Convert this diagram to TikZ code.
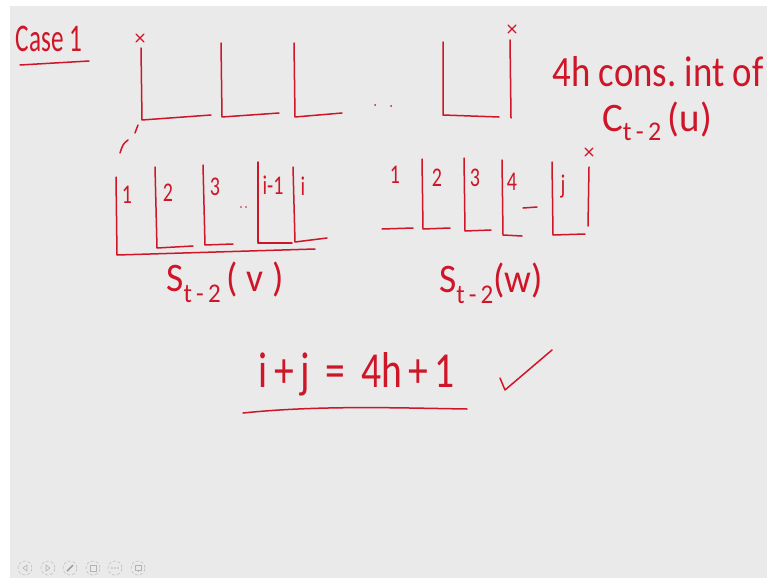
\documentclass[tikz,border=0pt]{standalone}
\usepackage{fontspec}
\setmainfont{Carlito}
\usepackage{graphicx}
\usetikzlibrary{positioning}
\definecolor{inkred}{RGB}{206,22,40}
\definecolor{slidegray}{RGB}{234,234,234}
\tikzset{
  ink/.style={draw=inkred, line width=1.5pt, line cap=round, line join=round},
  inkdot/.style={fill=inkred},
  inktext/.style={text=inkred, inner sep=0pt, font=\fontsize{20}{20}\selectfont},
  inkbig/.style={inktext, font=\fontsize{32}{32}\selectfont},
  navbutton/.style={circle, draw=gray!55, densely dashed, line width=0.5pt,
    minimum size=14pt, inner sep=0pt},
  navmark/.style={draw=gray!60, line width=0.6pt}
}
\newcommand{\tallink}[1]{\scalebox{1}[1.35]{#1}}
\newcommand{\crossmark}[1]{\draw[ink,line width=1.1pt] ($(#1)+(-4,-4)$) -- ($(#1)+(4,4)$) ($(#1)+(4,-4)$) -- ($(#1)+(-4,4)$);}
\usetikzlibrary{calc}
\begin{document}
\begin{tikzpicture}[x=1pt,y=-1pt]
  \useasboundingbox (0,0) rectangle (767,578);
  \fill[white] (0,0) rectangle (767,578);
  \fill[slidegray] (10,6) rectangle (767,578);

  % Heading
  \node[inktext,font=\fontsize{28}{28}\selectfont] (case) at (49,39) {\scalebox{0.9}[1.4]{Case 1}};
  \draw[ink] (20,65) -- (89,61);

  % Top row of slots
  \draw[ink] (141,48) -- (142,120) -- (211,115);
  \draw[ink] (221,43) -- (222,117) -- (279,113);
  \draw[ink] (294,43) -- (295,117) -- (342,113);
  \fill[inkdot] (375,105) circle (1pt) (391,106) circle (1pt);
  \draw[ink] (443,42) -- (443,115) -- (499,117);
  \draw[ink] (510,40) -- (511,118);
  \coordinate (xa) at (140,38);
  \coordinate (xb) at (512,29);
  \crossmark{xa}
  \crossmark{xb}
  \draw[ink] (138,125) -- (135,133);
  \draw[ink] (128,140) .. controls (123,144) .. (120,153);

  \node[inkbig] (cons) at (658,72) {\scalebox{1.15}[1.35]{4h cons.\ int of}};
  \node[inkbig,font=\fontsize{30}{30}\selectfont] (cu) at (657,121)
    {\scalebox{1.3}[1.35]{C\raisebox{-0.45ex}{\fontsize{20}{20}\selectfont t\,-\,2}\,(u)}};

  % Left block S_{t-2}(v)
  \draw[ink] (116,177) -- (117,255) -- (315,249);
  \draw[ink] (155,167) -- (157,248) -- (193,246);
  \draw[ink] (203,165) -- (205,245) -- (233,244);
  \draw[ink] (258,162) -- (258,243) -- (292,243);
  \draw[ink] (293,167) -- (295,242) -- (327,238);
  \fill[inkdot] (241,207) circle (0.9pt) (246,207) circle (0.9pt);
  \node[inktext] (v1) at (127,195) {\tallink{1}};
  \node[inktext] (v2) at (168,193) {\tallink{2}};
  \node[inktext] (v3) at (215,187) {\tallink{3}};
  \node[inktext] (vi1) at (273,185) {\tallink{i-1}};
  \node[inktext] (vi) at (303,186) {\tallink{i}};
  \node[inkbig,font=\fontsize{30}{30}\selectfont] (sv) at (225,282)
    {\scalebox{1.25}[1.35]{S\raisebox{-0.55ex}{\fontsize{20}{20}\selectfont t\,-\,2}\,( v )}};

  % Right block S_{t-2}(w)
  \draw[ink] (382,229) -- (413,228);
  \draw[ink] (422,159) -- (423,229) -- (450,228);
  \draw[ink] (464,158) -- (465,231) -- (491,230);
  \draw[ink] (502,160) -- (503,235) -- (522,236);
  \draw[ink] (523,208) -- (537,207);
  \draw[ink] (552,162) -- (553,235) -- (585,234);
  \draw[ink] (589,167) -- (588,226);
  \coordinate (xc) at (589,152);
  \crossmark{xc}
  \node[inktext] (w1) at (395,175) {\tallink{1}};
  \node[inktext] (w2) at (437,178) {\tallink{2}};
  \node[inktext] (w3) at (475,178) {\tallink{3}};
  \node[inktext] (w4) at (512,182) {\tallink{4}};
  \node[inktext] (wj) at (563,187) {\tallink{j}};
  \node[inkbig,font=\fontsize{30}{30}\selectfont] (sw) at (491,283)
    {\scalebox{1.25}[1.35]{S\raisebox{-0.55ex}{\fontsize{20}{20}\selectfont t\,-\,2}(w)}};

  % Count
  \node[inkbig,font=\fontsize{36}{36}\selectfont] (sum) at (357,374)
    {\scalebox{1.1}[1.4]{i\,+\,j \,=\, 4h\,+\,1}};
  \draw[ink] (243,413) .. controls (320,405) and (400,408) .. (467,409);
  \draw[ink] (500,378) -- (505,390) -- (552,350);

  % Slide controls
  \foreach \k/\cx in {1/25,2/48,3/70,4/93,5/115,6/138}
    \node[navbutton] (nav\k) at (\cx,568) {};
  \draw[navmark] ($(nav1)+(2,-3)$) -- ($(nav1)+(-2,0)$) -- ($(nav1)+(2,3)$) -- cycle;
  \draw[navmark] ($(nav2)+(-2,-3)$) -- ($(nav2)+(2,0)$) -- ($(nav2)+(-2,3)$) -- cycle;
  \draw[navmark,line width=1.4pt,draw=gray!80] ($(nav3)+(-3,3)$) -- ($(nav3)+(3,-3)$);
  \draw[navmark] ($(nav4)+(-3,-3)$) rectangle ($(nav4)+(3,3)$);
  \fill[gray!60] ($(nav5)+(-3,0)$) circle (0.8pt) (nav5) circle (0.8pt) ($(nav5)+(3,0)$) circle (0.8pt);
  \draw[navmark] ($(nav6)+(-3,-3)$) rectangle ($(nav6)+(3,2)$) ($(nav6)+(0,2)$) -- ($(nav6)+(0,4)$);
\end{tikzpicture}
\end{document}
